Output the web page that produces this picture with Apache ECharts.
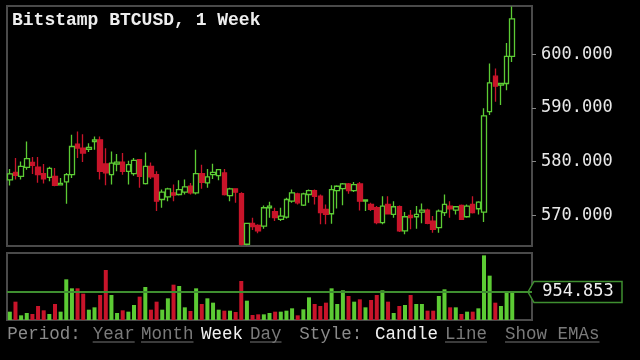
<!DOCTYPE html>
<html><head><meta charset="utf-8">
<script src="https://cdn.jsdelivr.net/npm/echarts@6/dist/echarts.min.js"></script>
<style>html,body{margin:0;padding:0;background:#000;}#c{width:640px;height:360px;}</style>
</head><body><div id="c"></div>
<script>
const categories = Array.from({length: 90}, (_, i) => 'W' + (i + 1));
const opens = [576.61,578.02,577.28,578.94,579.87,579.00,577.78,577.10,577.28,575.69,
576.24,577.59,583.28,582.54,582.28,583.76,584.07,579.57,577.59,579.57,
579.94,578.20,577.78,580.37,575.93,579.13,577.59,572.96,573.46,574.20,
573.89,574.32,575.43,574.20,577.78,576.05,577.59,577.41,577.91,573.70,
574.94,574.07,564.63,568.52,568.15,568.02,571.42,570.68,569.26,569.69,
572.65,574.01,571.91,573.89,574.63,573.57,571.11,570.31,574.63,575.00,
575.86,574.63,575.86,572.65,572.04,571.42,568.65,572.04,570.19,571.61,
567.10,570.00,569.75,570.62,570.99,568.95,567.72,570.50,571.73,570.99,
571.85,569.75,572.04,571.24,570.62,589.32,595.93,594.26,594.57,599.63];
const closes = [577.72,577.46,579.13,580.56,579.31,577.59,576.80,578.76,575.61,575.98,
577.59,582.83,582.54,581.61,582.65,584.07,578.20,577.91,579.75,579.94,
578.20,579.44,580.25,577.28,579.13,577.16,572.65,574.32,574.94,573.77,
574.81,575.31,574.20,577.78,576.17,577.16,578.02,578.52,573.89,574.94,
574.32,564.60,568.52,567.90,567.10,571.42,571.73,569.57,569.88,572.96,
574.20,572.35,574.01,574.63,573.57,570.50,570.19,574.81,575.43,575.86,
574.63,575.74,572.65,572.90,571.11,568.65,571.73,570.31,571.61,567.10,
569.75,569.57,570.19,570.99,568.52,567.41,570.80,572.04,571.24,571.61,
569.26,571.73,570.50,572.47,588.52,594.69,594.07,594.57,599.63,606.61];
const lows = [575.56,576.67,576.67,578.52,577.72,576.06,575.93,576.36,575.43,575.61,
572.17,576.98,580.69,579.94,581.80,582.22,576.67,575.60,575.74,578.20,
577.59,575.74,577.40,575.13,575.74,576.80,570.80,571.42,572.65,572.65,
573.70,573.89,573.89,573.89,574.94,575.13,576.80,576.54,573.70,572.65,
572.35,564.40,564.44,567.28,566.67,567.53,569.57,568.95,568.95,569.44,
572.35,572.04,571.73,572.35,572.04,568.33,568.33,568.46,571.30,571.91,
574.01,574.38,570.93,570.80,570.80,568.33,568.33,570.19,569.57,566.91,
566.48,567.41,567.53,568.52,568.33,566.79,566.79,569.88,569.57,570.19,
569.14,569.57,570.37,570.19,568.77,588.70,591.17,590.56,593.33,598.58];
const highs = [578.65,580.69,580.06,583.76,580.87,580.87,579.57,579.07,578.83,576.98,
577.91,585.00,585.61,585.11,583.46,584.69,584.69,582.50,581.91,581.43,
581.61,580.19,580.70,580.49,581.73,579.87,578.20,574.81,575.13,575.74,
576.54,576.67,576.05,582.22,579.44,578.65,579.63,578.65,578.65,575.13,
575.00,574.32,568.65,569.57,568.33,571.85,572.53,571.42,571.42,573.27,
574.81,574.20,574.20,574.81,574.81,573.89,572.04,575.62,575.62,576.05,
576.05,576.23,576.23,572.95,572.35,571.73,573.57,573.57,572.65,571.85,
570.62,570.99,571.73,572.22,571.24,569.88,571.11,573.89,572.65,571.65,
572.04,572.04,573.57,572.65,589.94,598.27,597.35,594.60,602.09,608.89];
const volumes = [284,625,159,239,205,477,330,205,546,284,
1387,1080,1080,898,352,432,853,1705,853,239,
330,284,512,796,1125,352,625,352,739,1205,
1159,432,307,1080,546,739,591,352,318,318,
273,1330,659,170,193,193,239,284,284,318,
398,159,364,773,546,477,591,1080,546,1012,
818,625,705,432,682,853,1012,625,239,477,
512,853,546,546,318,318,818,1046,432,432,
205,284,284,398,2205,1512,591,477,966,966];
const volAvg = 954.853;
const priceTicks = [570, 580, 590, 600];

const GREEN = '#5ccb34', RED = '#c8142a', AVG = '#3f8f30';
const chart = echarts.init(document.getElementById('c'), null, {renderer: 'canvas'});
const candleData = opens.map((o, i) => [o, closes[i], lows[i], highs[i]]);
const volData = volumes.map((v, i) => ({value: v, itemStyle: {color: closes[i] >= opens[i] ? GREEN : RED}}));

const MONO = '"Liberation Mono", monospace';
function word(txt, x, color) {
  return {type: 'text', x: x, y: 334, style: {text: txt, font: '17.5px ' + MONO, fill: color, textVerticalAlign: 'middle'}};
}
function uline(txt, x) {
  return {type: 'line', shape: {x1: x, y1: 342, x2: x + txt.length * 10.5, y2: 342}, style: {stroke: '#777', lineWidth: 1}};
}
const links = [['Year', 92.7], ['Month', 141], ['Day', 250], ['Line', 445], ['Show EMAs', 505]];
const graphics = [
  {type: 'text', x: 12, y: 20, style: {text: 'Bitstamp BTCUSD, 1 Week', font: 'bold 18px ' + MONO, fill: '#eeeeee', textVerticalAlign: 'middle'}},
  word('Period:', 7.3, '#8a8a8a'),
  word('Week', 201, '#f2f2f2'),
  word('Style:', 299.3, '#8a8a8a'),
  word('Candle', 375, '#f2f2f2')
];
links.forEach(([t, x]) => { graphics.push(word(t, x, '#7a7a7a')); graphics.push(uline(t, x)); });

const option = {
  backgroundColor: '#000',
  animation: false,
  grid: [
    {left: 7, top: 6, width: 525, height: 240, show: true, borderColor: '#4a4a4a', borderWidth: 2},
    {left: 7, top: 253, width: 525, height: 67, show: true, borderColor: '#4a4a4a', borderWidth: 2}
  ],
  xAxis: [
    {type: 'category', gridIndex: 0, data: categories, max: 92, boundaryGap: true, show: false},
    {type: 'category', gridIndex: 1, data: categories, max: 92, boundaryGap: true, show: false}
  ],
  yAxis: [
    {type: 'value', gridIndex: 0, position: 'right', min: 564.3, max: 609,
     splitLine: {show: false}, axisLine: {show: false},
     axisTick: {show: true, length: 4, lineStyle: {color: '#888'}, customValues: priceTicks},
     axisLabel: {customValues: priceTicks, formatter: v => v.toFixed(3), color: '#e8e8e8',
       fontFamily: 'DejaVu Sans Mono', fontSize: 17, margin: 9}},
    {type: 'value', gridIndex: 1, min: 0, max: 2285, show: false}
  ],
  series: [
    {type: 'candlestick', xAxisIndex: 0, yAxisIndex: 0, data: candleData, barWidth: 5, barMaxWidth: 5, barMinWidth: 5,
     itemStyle: {color: '#000', color0: RED, borderColor: GREEN, borderColor0: RED, borderWidth: 1.3}},
    {type: 'bar', xAxisIndex: 1, yAxisIndex: 1, data: volData, barWidth: 4,
     markLine: {silent: true, symbol: 'none', label: {show: false},
       lineStyle: {color: AVG, width: 2, type: 'solid'}, data: [{yAxis: volAvg}]}}
  ],
  graphic: graphics
};
chart.setOption(option);

const yTag = chart.convertToPixel({yAxisIndex: 1}, volAvg);
const gx = 7 + 525;
chart.setOption({graphic: graphics.concat([
  {type: 'polygon', shape: {points: [[gx - 4, yTag], [gx + 2, yTag - 10.5], [gx + 90, yTag - 10.5], [gx + 90, yTag + 10.5], [gx + 2, yTag + 10.5]]},
   style: {fill: '#000', stroke: AVG, lineWidth: 1.5}},
  {type: 'text', x: gx + 46, y: yTag, style: {text: volAvg.toFixed(3), font: '17px "DejaVu Sans Mono"', fill: '#f0f0f0', textAlign: 'center', textVerticalAlign: 'middle'}}
])});
</script></body></html>
